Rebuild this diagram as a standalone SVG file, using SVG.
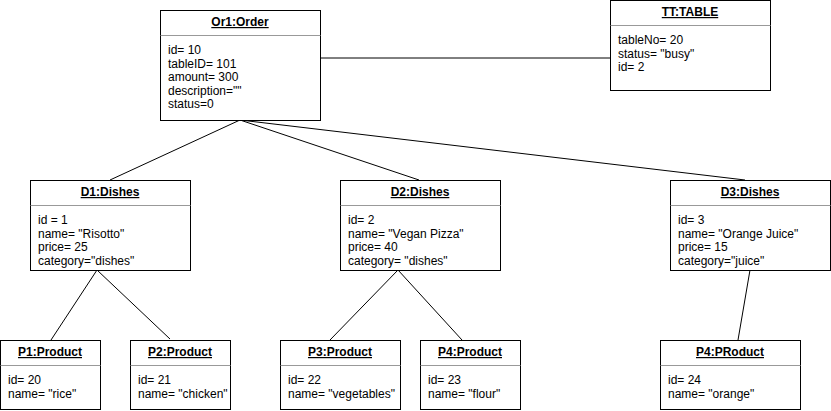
<svg xmlns="http://www.w3.org/2000/svg" width="831" height="411" viewBox="0 0 831 411">
<style>
.box{fill:#ffffff;stroke:#000000;stroke-width:1}
.sep{stroke:#999999;stroke-width:1}
.t{font-family:"Liberation Sans",Arial,Helvetica,sans-serif;font-size:12px;font-weight:bold;text-decoration:underline;text-anchor:middle;fill:#000000}
.b{font-family:"Liberation Sans",Arial,Helvetica,sans-serif;font-size:12px;fill:#000000}
.c{stroke:#000000;stroke-width:1;fill:none}
</style>
<rect width="831" height="411" fill="#ffffff"/>
<g id="connectors">
<line class="c" x1="320" y1="58" x2="610" y2="58"/>
<line class="c" x1="240" y1="120" x2="110" y2="180"/>
<line class="c" x1="240" y1="120" x2="419" y2="180"/>
<line class="c" x1="240" y1="120" x2="745" y2="180"/>
<line class="c" x1="97" y1="270" x2="51" y2="340"/>
<line class="c" x1="97" y1="270" x2="170" y2="339"/>
<line class="c" x1="398" y1="270" x2="330" y2="340"/>
<line class="c" x1="398" y1="270" x2="462" y2="340"/>
<line class="c" x1="750" y1="270" x2="738" y2="340"/>
</g>
<g id="Or1">
<rect class="box" x="160.5" y="10.5" width="160" height="110"/>
<line class="sep" x1="160.5" y1="35.5" x2="320.5" y2="35.5"/>
<text class="t" x="240" y="26">Or1:Order</text>
<text class="b" x="168" y="54">id= 10</text>
<text class="b" x="168" y="67.5">tableID= 101</text>
<text class="b" x="168" y="81">amount= 300</text>
<text class="b" x="168" y="94.5">description=""</text>
<text class="b" x="168" y="108">status=0</text>
</g>
<g id="TT">
<rect class="box" x="610.5" y="0.5" width="160" height="90"/>
<line class="sep" x1="610.5" y1="25.5" x2="770.5" y2="25.5"/>
<text class="t" x="690" y="16">TT:TABLE</text>
<text class="b" x="618" y="44">tableNo= 20</text>
<text class="b" x="618" y="57.5">status= "busy"</text>
<text class="b" x="618" y="71">id= 2</text>
</g>
<g id="D1">
<rect class="box" x="30.5" y="180.5" width="160" height="90"/>
<line class="sep" x1="30.5" y1="205.5" x2="190.5" y2="205.5"/>
<text class="t" x="110" y="196">D1:Dishes</text>
<text class="b" x="38" y="224">id = 1</text>
<text class="b" x="38" y="237.5">name= "Risotto"</text>
<text class="b" x="38" y="251">price= 25</text>
<text class="b" x="38" y="264.5">category="dishes"</text>
</g>
<g id="D2">
<rect class="box" x="340.5" y="180.5" width="160" height="90"/>
<line class="sep" x1="340.5" y1="205.5" x2="500.5" y2="205.5"/>
<text class="t" x="420" y="196">D2:Dishes</text>
<text class="b" x="348" y="224">id= 2</text>
<text class="b" x="348" y="237.5">name= "Vegan Pizza"</text>
<text class="b" x="348" y="251">price= 40</text>
<text class="b" x="348" y="264.5">category= "dishes"</text>
</g>
<g id="D3">
<rect class="box" x="670.5" y="180.5" width="160" height="90"/>
<line class="sep" x1="670.5" y1="205.5" x2="830.5" y2="205.5"/>
<text class="t" x="750" y="196">D3:Dishes</text>
<text class="b" x="678" y="224">id= 3</text>
<text class="b" x="678" y="237.5">name= "Orange Juice"</text>
<text class="b" x="678" y="251">price= 15</text>
<text class="b" x="678" y="264.5">category="juice"</text>
</g>
<g id="P1">
<rect class="box" x="0.5" y="340.5" width="100" height="69"/>
<line class="sep" x1="0.5" y1="365.5" x2="100.5" y2="365.5"/>
<text class="t" x="50" y="356">P1:Product</text>
<text class="b" x="8" y="384">id= 20</text>
<text class="b" x="8" y="397.5">name= "rice"</text>
</g>
<g id="P2">
<rect class="box" x="130.5" y="340.5" width="100" height="69"/>
<line class="sep" x1="130.5" y1="365.5" x2="230.5" y2="365.5"/>
<text class="t" x="180" y="356">P2:Product</text>
<text class="b" x="138" y="384">id= 21</text>
<text class="b" x="138" y="397.5">name= "chicken"</text>
</g>
<g id="P3">
<rect class="box" x="280.5" y="340.5" width="120" height="69"/>
<line class="sep" x1="280.5" y1="365.5" x2="400.5" y2="365.5"/>
<text class="t" x="340" y="356">P3:Product</text>
<text class="b" x="288" y="384">id= 22</text>
<text class="b" x="288" y="397.5">name= "vegetables"</text>
</g>
<g id="P4">
<rect class="box" x="420.5" y="340.5" width="100" height="69"/>
<line class="sep" x1="420.5" y1="365.5" x2="520.5" y2="365.5"/>
<text class="t" x="470" y="356">P4:Product</text>
<text class="b" x="428" y="384">id= 23</text>
<text class="b" x="428" y="397.5">name= "flour"</text>
</g>
<g id="P4b">
<rect class="box" x="660.5" y="340.5" width="140" height="69"/>
<line class="sep" x1="660.5" y1="365.5" x2="800.5" y2="365.5"/>
<text class="t" x="730" y="356">P4:PRoduct</text>
<text class="b" x="668" y="384">id= 24</text>
<text class="b" x="668" y="397.5">name= "orange"</text>
</g>
</svg>
